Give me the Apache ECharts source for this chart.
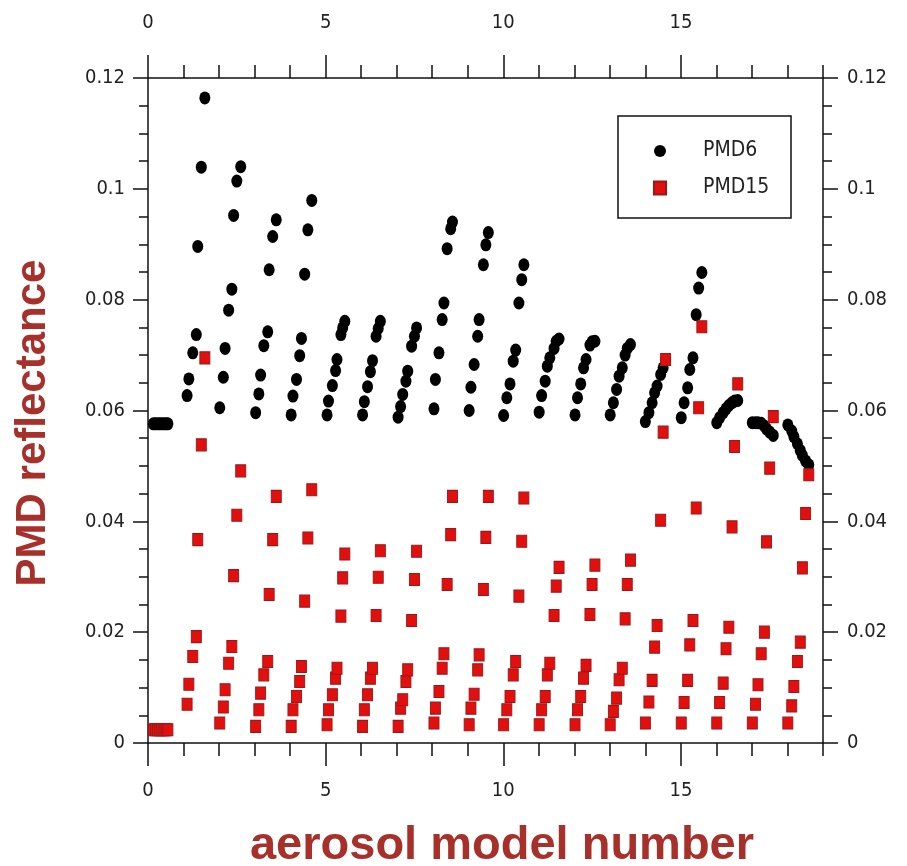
<!DOCTYPE html>
<html>
<head>
<meta charset="utf-8">
<title>PMD reflectance per aerosol model</title>
<script src="https://cdn.jsdelivr.net/npm/echarts@6/dist/echarts.min.js"></script>
<style>
  html, body { margin: 0; padding: 0; background: #ffffff; }
  #chart { width: 907px; height: 866px; }
</style>
</head>
<body>
<div id="chart"></div>
<script>
// Aerosol model position of each sample (model number + sub-case offset)
const modelX = [
  0.15, 0.21, 0.27, 0.33, 0.39, 0.45, 0.51, 0.56,
  1.10, 1.15, 1.26, 1.36, 1.40, 1.50, 1.60,
  2.02, 2.12, 2.17, 2.27, 2.36, 2.41, 2.50, 2.61,
  3.03, 3.12, 3.17, 3.26, 3.37, 3.41, 3.51, 3.61,
  4.03, 4.08, 4.18, 4.27, 4.32, 4.41, 4.50, 4.61,
  5.04, 5.08, 5.19, 5.28, 5.32, 5.43, 5.48, 5.54,
  6.04, 6.09, 6.18, 6.26, 6.32, 6.42, 6.48, 6.54,
  7.04, 7.11, 7.17, 7.26, 7.31, 7.42, 7.50, 7.56,
  8.05, 8.09, 8.19, 8.28, 8.33, 8.42, 8.52, 8.57,
  9.04, 9.09, 9.18, 9.28, 9.32, 9.44, 9.51, 9.58,
  10.01, 10.10, 10.19, 10.28, 10.35, 10.44, 10.52, 10.58,
  11.01, 11.08, 11.18, 11.24, 11.31, 11.43, 11.49, 11.57,
  12.02, 12.09, 12.18, 12.26, 12.33, 12.44, 12.50, 12.58,
  13.01, 13.10, 13.19, 13.26, 13.35, 13.43, 13.49, 13.58,
  14.00, 14.10, 14.19, 14.26, 14.33, 14.43, 14.50, 14.57,
  15.01, 15.09, 15.19, 15.25, 15.34, 15.43, 15.50, 15.59,
  16.01, 16.09, 16.19, 16.27, 16.35, 16.44, 16.51, 16.60,
  17.01, 17.10, 17.17, 17.26, 17.35, 17.41, 17.50, 17.60,
  18.01, 18.12, 18.18, 18.28, 18.36, 18.42, 18.51, 18.60
];

// PMD6 reflectance for each sample
const pmd6 = [
  0.0576, 0.0576, 0.0576, 0.0576, 0.0576, 0.0576, 0.0576, 0.0576,
  0.0627, 0.0657, 0.0704, 0.0737, 0.0896, 0.1039, 0.1164,
  0.0605, 0.0660, 0.0712, 0.0781, 0.0819, 0.0952, 0.1014, 0.1040,
  0.0596, 0.0630, 0.0664, 0.0717, 0.0742, 0.0854, 0.0914, 0.0944,
  0.0592, 0.0626, 0.0656, 0.0699, 0.0730, 0.0846, 0.0926, 0.0979,
  0.0592, 0.0617, 0.0645, 0.0672, 0.0692, 0.0737, 0.0749, 0.0761,
  0.0592, 0.0616, 0.0643, 0.0670, 0.0690, 0.0734, 0.0748, 0.0761,
  0.0588, 0.0607, 0.0629, 0.0653, 0.0671, 0.0716, 0.0734, 0.0749,
  0.0603, 0.0656, 0.0704, 0.0764, 0.0794, 0.0892, 0.0928, 0.0940,
  0.0600, 0.0642, 0.0683, 0.0734, 0.0764, 0.0863, 0.0899, 0.0921,
  0.0591, 0.0623, 0.0648, 0.0689, 0.0709, 0.0794, 0.0836, 0.0863,
  0.0597, 0.0627, 0.0653, 0.0680, 0.0695, 0.0712, 0.0725, 0.0729,
  0.0592, 0.0623, 0.0648, 0.0677, 0.0692, 0.0718, 0.0724, 0.0725,
  0.0592, 0.0614, 0.0638, 0.0662, 0.0677, 0.0700, 0.0712, 0.0719,
  0.0580, 0.0596, 0.0614, 0.0632, 0.0644, 0.0665, 0.0677, 0.0692,
  0.0587, 0.0614, 0.0641, 0.0674, 0.0695, 0.0773, 0.0821, 0.0849,
  0.0578, 0.0587, 0.0596, 0.0603, 0.0609, 0.0614, 0.0617, 0.0618,
  0.0578, 0.0578, 0.0578, 0.0577, 0.0572, 0.0567, 0.0561, 0.0555,
  0.0574, 0.0563, 0.0553, 0.0540, 0.0528, 0.0519, 0.0509, 0.0502
];

// PMD15 reflectance for each sample
const pmd15 = [
  0.0024, 0.0024, 0.0024, 0.0024, 0.0024, 0.0024, 0.0024, 0.0024,
  0.0070, 0.0106, 0.0156, 0.0192, 0.0367, 0.0538, 0.0695,
  0.0036, 0.0065, 0.0096, 0.0144, 0.0174, 0.0302, 0.0411, 0.0491,
  0.0030, 0.0060, 0.0090, 0.0123, 0.0147, 0.0268, 0.0367, 0.0445,
  0.0030, 0.0060, 0.0084, 0.0111, 0.0138, 0.0256, 0.0370, 0.0457,
  0.0033, 0.0060, 0.0087, 0.0117, 0.0135, 0.0229, 0.0298, 0.0341,
  0.0030, 0.0060, 0.0087, 0.0117, 0.0135, 0.0230, 0.0299, 0.0347,
  0.0030, 0.0063, 0.0078, 0.0111, 0.0132, 0.0221, 0.0295, 0.0346,
  0.0036, 0.0063, 0.0093, 0.0135, 0.0161, 0.0286, 0.0376, 0.0445,
  0.0033, 0.0063, 0.0088, 0.0132, 0.0159, 0.0277, 0.0371, 0.0445,
  0.0033, 0.0060, 0.0084, 0.0123, 0.0147, 0.0265, 0.0364, 0.0442,
  0.0033, 0.0060, 0.0084, 0.0123, 0.0144, 0.0230, 0.0283, 0.0317,
  0.0033, 0.0060, 0.0084, 0.0117, 0.0140, 0.0232, 0.0286, 0.0321,
  0.0033, 0.0057, 0.0081, 0.0114, 0.0135, 0.0224, 0.0286, 0.0330,
  0.0036, 0.0074, 0.0113, 0.0173, 0.0212, 0.0402, 0.0561, 0.0692,
  0.0036, 0.0073, 0.0113, 0.0177, 0.0221, 0.0424, 0.0605, 0.0751,
  0.0036, 0.0073, 0.0108, 0.0170, 0.0209, 0.0390, 0.0535, 0.0648,
  0.0036, 0.0070, 0.0105, 0.0161, 0.0200, 0.0363, 0.0496, 0.0589,
  0.0036, 0.0067, 0.0102, 0.0147, 0.0182, 0.0316, 0.0414, 0.0484
];

// Labelled model numbers on the top and bottom axes
const xLabelValues = [0, 5, 10, 15];
const seriesNames = ['PMD6', 'PMD15'];
const xTitle = 'aerosol model number';
const yTitle = 'PMD reflectance';

const tickFont = "'Liberation Sans Narrow', 'DejaVu Sans Condensed', 'Liberation Sans', sans-serif";
const titleFont = "'Liberation Sans', Arial, sans-serif";
const titleColor = '#a8302b';
const inkStyle = { color: '#111111', width: 1.5 };
const tickLabel = { fontFamily: tickFont, fontSize: 20, color: '#222222' };

// Each horizontal side gets a fine axis (unit ticks + labels) and an overlay carrying the long ticks.
function xAxesFor(position, labelMargin) {
  return [
    {
      type: 'value', position: position, min: 0, max: 19, interval: 1,
      axisLine: { show: true, onZero: false, lineStyle: inkStyle },
      axisTick: { show: true, inside: false, length: 13, lineStyle: inkStyle },
      axisLabel: Object.assign({
        show: true, margin: labelMargin, customValues: xLabelValues,
        formatter: v => (v % 5 === 0 ? String(v) : '')
      }, tickLabel),
      splitLine: { show: false }
    },
    {
      type: 'value', position: position, min: 0, max: 19, interval: 1,
      axisLine: { show: false, onZero: false },
      axisTick: { show: true, inside: false, length: 23, customValues: xLabelValues, lineStyle: inkStyle },
      axisLabel: { show: false },
      splitLine: { show: false }
    }
  ];
}

function yAxisFor(position, labelMargin) {
  return {
    type: 'value', position: position, min: 0, max: 0.12, interval: 0.02,
    axisLine: { show: true, onZero: false, lineStyle: inkStyle },
    axisTick: { show: true, inside: false, length: 15, lineStyle: inkStyle },
    minorTick: { show: true, splitNumber: 4, length: 9, lineStyle: inkStyle },
    axisLabel: Object.assign({ show: true, margin: labelMargin }, tickLabel),
    splitLine: { show: false },
    minorSplitLine: { show: false }
  };
}

const chart = echarts.init(document.getElementById('chart'), null, { renderer: 'canvas' });

chart.setOption({
  animation: false,
  backgroundColor: '#ffffff',
  grid: { left: 148, right: 84, top: 78, bottom: 123, containLabel: false },
  xAxis: [].concat(xAxesFor('bottom', 38), xAxesFor('top', 45)),
  yAxis: [yAxisFor('left', 23), yAxisFor('right', 24)],
  legend: {
    orient: 'vertical',
    left: 653, top: 139,
    padding: 0,
    itemWidth: 12, itemHeight: 13, itemGap: 13,
    selectedMode: false,
    data: [
      { name: seriesNames[0], icon: 'circle' },
      { name: seriesNames[1], icon: 'rect' }
    ],
    formatter: name => '{n|' + name + '}',
    textStyle: {
      fontFamily: tickFont, fontSize: 21, color: '#222222', lineHeight: 24,
      rich: { n: { fontFamily: tickFont, fontSize: 21, color: '#222222', lineHeight: 24, padding: [0, 0, 0, 32] } }
    }
  },
  graphic: [
    {
      type: 'rect', z: 100,
      shape: { x: 618, y: 116, width: 173, height: 102 },
      style: { fill: 'none', stroke: '#111111', lineWidth: 1.5 }
    },
    {
      type: 'text', x: 33, y: 423, rotation: Math.PI / 2,
      style: {
        text: yTitle, fill: titleColor,
        font: 'bold 42px ' + titleFont,
        textAlign: 'center', textVerticalAlign: 'middle', align: 'center', verticalAlign: 'middle'
      }
    },
    {
      type: 'text', x: 502, y: 846,
      style: {
        text: xTitle, fill: titleColor,
        font: 'bold 47px ' + titleFont,
        textAlign: 'center', textVerticalAlign: 'middle', align: 'center', verticalAlign: 'middle'
      }
    }
  ],
  series: [
    {
      name: seriesNames[0], type: 'scatter', xAxisIndex: 0, yAxisIndex: 0,
      symbol: 'circle', symbolSize: [11, 13],
      itemStyle: { color: '#000000', opacity: 1 },
      data: modelX.map((x, i) => [x, pmd6[i]])
    },
    {
      name: seriesNames[1], type: 'scatter', xAxisIndex: 0, yAxisIndex: 0,
      symbol: 'rect', symbolSize: [10, 12],
      itemStyle: { color: '#e1100f', borderColor: '#9e1717', borderWidth: 1, opacity: 1 },
      data: modelX.map((x, i) => [x, pmd15[i]])
    }
  ]
});
</script>
</body>
</html>
